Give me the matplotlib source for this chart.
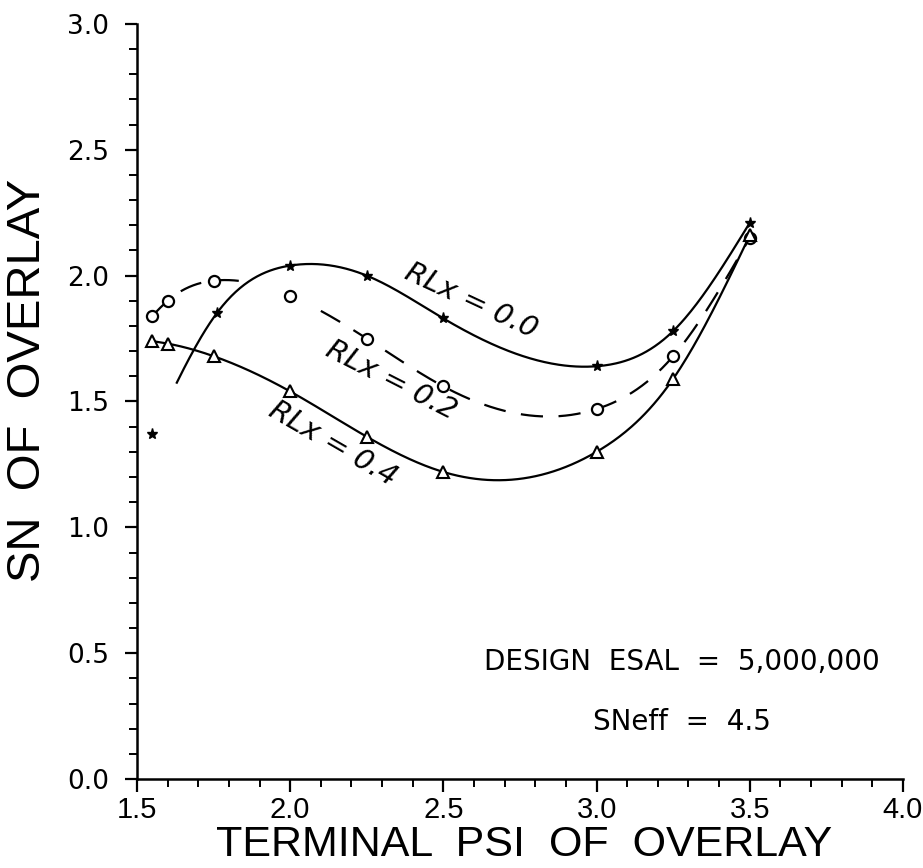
import numpy as np
import matplotlib
matplotlib.use("Agg")
import matplotlib.pyplot as plt
from matplotlib.ticker import MultipleLocator

# terminal PSI values where SN was computed
psi_00 = [1.55, 1.76, 2.0, 2.25, 2.5, 3.0, 3.25, 3.5]
sn_00 = [1.37, 1.85, 2.04, 2.0, 1.83, 1.64, 1.78, 2.21]

psi_02 = [1.55, 1.6, 1.75, 2.0, 2.25, 2.5, 3.0, 3.25, 3.5]
sn_02 = [1.84, 1.90, 1.98, 1.92, 1.75, 1.56, 1.47, 1.68, 2.15]

psi_04 = [1.55, 1.6, 1.75, 2.0, 2.25, 2.5, 3.0, 3.25, 3.5]
sn_04 = [1.74, 1.73, 1.68, 1.54, 1.36, 1.22, 1.30, 1.59, 2.16]

curve_labels = ["RLx = 0.0", "RLx = 0.2", "RLx = 0.4"]
notes = ["DESIGN  ESAL  =  5,000,000", "SNeff  =  4.5"]


def natural_spline(x, y, xs):
    """Natural cubic spline through (x, y), evaluated at xs."""
    x = np.asarray(x, float)
    y = np.asarray(y, float)
    n = len(x)
    h = np.diff(x)
    A = np.zeros((n, n))
    rhs = np.zeros(n)
    A[0, 0] = A[-1, -1] = 1.0
    for i in range(1, n - 1):
        A[i, i - 1] = h[i - 1]
        A[i, i] = 2 * (h[i - 1] + h[i])
        A[i, i + 1] = h[i]
        rhs[i] = 3 * ((y[i + 1] - y[i]) / h[i] - (y[i] - y[i - 1]) / h[i - 1])
    c = np.linalg.solve(A, rhs)
    b = np.diff(y) / h - h * (2 * c[:-1] + c[1:]) / 3
    d = np.diff(c) / (3 * h)
    idx = np.clip(np.searchsorted(x, xs) - 1, 0, n - 2)
    dx = xs - x[idx]
    return y[idx] + b[idx] * dx + c[idx] * dx ** 2 + d[idx] * dx ** 3


fig = plt.figure(figsize=(9.23, 8.68), dpi=100)
ax = fig.add_axes([0.1484, 0.1025, 0.8299, 0.8699])

lw = 1.6
# RLx = 0.0 (solid, drawn from 1.63 on; first point left standing alone)
xs = np.linspace(1.63, psi_00[-1], 400)
ax.plot(xs, natural_spline(psi_00, sn_00, xs), color="black", lw=lw)
ax.plot(psi_00, sn_00, ls="none", marker="*", ms=8, color="black")

# RLx = 0.2 (dashed, broken where it crosses the 0.0 curve)
xs = np.linspace(psi_02[0], psi_02[-1], 600)
ys = natural_spline(psi_02, sn_02, xs)
ys[(xs > 1.84) & (xs < 2.1)] = np.nan
ax.plot(xs, ys, color="black", lw=lw, dashes=(10, 7))
ax.plot(psi_02, sn_02, ls="none", marker="o", ms=8, mfc="white", mec="black", mew=1.6)

# RLx = 0.4 (solid)
xs = np.linspace(psi_04[0], psi_04[-1], 400)
ax.plot(xs, natural_spline(psi_04, sn_04, xs), color="black", lw=lw)
ax.plot(psi_04, sn_04, ls="none", marker="^", ms=8, mfc="white", mec="black", mew=1.5)

lab_kw = dict(fontsize=21, style="italic", ha="center", va="center", family="DejaVu Sans")
ax.text(2.59, 1.90, curve_labels[0], rotation=-25, **lab_kw)
ax.text(2.33, 1.585, curve_labels[1], rotation=-27, **lab_kw)
ax.text(2.14, 1.33, curve_labels[2], rotation=-30, **lab_kw)

ax.text(3.28, 0.465, notes[0], fontsize=20, ha="center", va="center")
ax.text(3.28, 0.225, notes[1], fontsize=20, ha="center", va="center")

ax.set_xlim(1.5, 4.0)
ax.set_ylim(0.0, 3.0)
ax.xaxis.set_major_locator(MultipleLocator(0.5))
ax.xaxis.set_minor_locator(MultipleLocator(0.1))
ax.yaxis.set_major_locator(MultipleLocator(0.5))
ax.yaxis.set_minor_locator(MultipleLocator(0.1))
ax.xaxis.set_major_formatter(lambda v, p: f"{v:.1f}")
ax.yaxis.set_major_formatter(lambda v, p: f"{v:.1f}")

for side in ("top", "right"):
    ax.spines[side].set_visible(False)
for side in ("left", "bottom"):
    ax.spines[side].set_linewidth(1.8)

ax.tick_params(which="major", direction="out", length=9, width=1.6)
ax.tick_params(which="minor", direction="out", length=6, width=1.4)
ax.tick_params(axis="y", which="major", labelsize=19, pad=11)
ax.tick_params(axis="x", which="major", labelsize=21, pad=3)
for t in ax.get_xticklabels():
    t.set_family("Liberation Sans")

ax.set_xlabel("TERMINAL  PSI  OF  OVERLAY", fontsize=31, family="Liberation Sans", labelpad=0)
ax.set_ylabel("SN  OF  OVERLAY", fontsize=34, family="Liberation Sans", labelpad=0)
ax.yaxis.set_label_coords(-0.114, 0.528)
ax.xaxis.set_label_coords(0.505, -0.088)
ax.xaxis.label.set_va("center")

fig.savefig("out.png", dpi=100)
